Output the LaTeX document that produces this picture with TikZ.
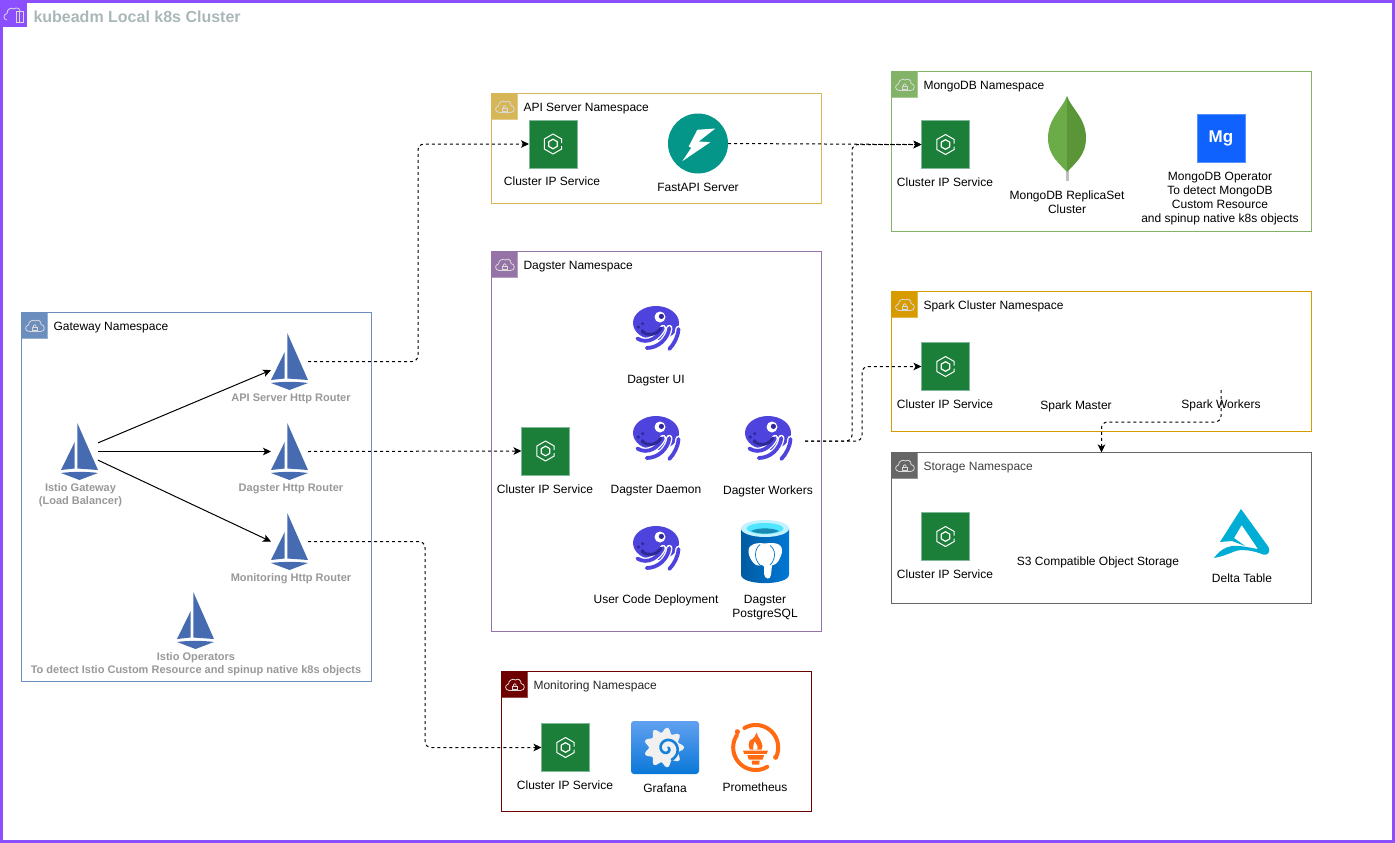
\documentclass[tikz,border=0pt]{standalone}
\usepackage{fontspec}
\setmainfont{Liberation Sans}
\usetikzlibrary{arrows.meta}
\definecolor{outerpurple}{HTML}{8C4FFF}
\definecolor{clustertitle}{HTML}{AAB7B8}
\definecolor{gatewayblue}{HTML}{6C8EBF}
\definecolor{apigold}{HTML}{D6B656}
\definecolor{dagstermauve}{HTML}{9673A6}
\definecolor{mongogreen}{HTML}{82B366}
\definecolor{sparkamber}{HTML}{D79B00}
\definecolor{storagegrey}{HTML}{666666}
\definecolor{monitormaroon}{HTML}{6F0000}
\definecolor{sailblue}{HTML}{466BB0}
\definecolor{svcgreen}{HTML}{1B7F3A}
\definecolor{svcedge}{HTML}{82B89A}
\definecolor{routergrey}{HTML}{999999}
\definecolor{fastteal}{HTML}{049688}
\definecolor{dagpurple}{HTML}{4F43DD}
\definecolor{dagdark}{HTML}{2D2A96}
\definecolor{leaflight}{HTML}{6CAC48}
\definecolor{leafdark}{HTML}{5A9638}
\definecolor{mgblue}{HTML}{0F62FE}
\definecolor{promorange}{HTML}{FF6A13}
\definecolor{deltacyan}{HTML}{00ADD4}
\definecolor{pgleft}{HTML}{005BA1}
\definecolor{pgright}{HTML}{0078D4}
\definecolor{pgring}{HTML}{C3F1FF}
\definecolor{pgcyan}{HTML}{50E6FF}
\definecolor{pgdeep}{HTML}{198AB3}
\definecolor{giftop}{HTML}{61A0F0}
\definecolor{gifbottom}{HTML}{0A78D8}
\tikzset{
  nsbox/.style={draw=#1, fill=white, anchor=north west, inner sep=0pt, outer sep=0pt},
  nstitle/.style={anchor=west, inner sep=0pt},
  txt/.style={inner sep=0pt, align=center},
  grouter/.style={inner sep=0pt, align=center, text=routergrey, font=\fontsize{11}{13}\selectfont\bfseries},
  sailbox/.style={minimum width=37pt, minimum height=57pt, inner sep=0pt, outer sep=0pt},
  svcbox/.style={fill=svcgreen, draw=svcedge, minimum size=48pt, inner sep=0pt, outer sep=0pt},
  solidflow/.style={draw=black, -{Stealth[length=8pt,width=7.5pt,inset=2pt]}},
  dashflow/.style={draw=black, dash pattern=on 3pt off 3pt, rounded corners=6pt, -{Stealth[length=8pt,width=7.5pt,inset=2pt]}},
  tentacle/.style={white, double=dagpurple, double distance=3.8pt, line width=1.3pt, line cap=round},
  sail/.pic={
    \fill[sailblue] (-18.5,18.5) -- (-4.8,-9.5) -- (-4.8,17) -- cycle;
    \fill[sailblue] (-2.2,-28.5) -- (-2.2,17) -- (18.5,18.5) -- cycle;
    \fill[sailblue] (-18.5,21.5) .. controls (-8,20) and (8,20) .. (18.5,21.5) -- (0,28.5) -- cycle;
  },
  hexmark/.pic={
    \draw[white, line join=round] (8.7,-1) -- (8.7,-5) -- (0,-10) -- (-8.7,-5) -- (-8.7,5) -- (0,10) -- (8.7,5) -- (8.7,2);
    \draw[white, line width=1.2pt, line join=round] (0,-4.8) -- (4.2,-2.4) -- (4.2,2.4) -- (0,4.8) -- (-4.2,2.4) -- (-4.2,-2.4) -- cycle;
  },
  cloudlock/.pic={
    \draw[white!85!black, line width=.8pt] (8,19) .. controls (3,19) and (3,13) .. (7,12.5) .. controls (7,9) and (11,6.5) .. (14,8.5) .. controls (16,6.5) and (20,8.5) .. (19.5,12) .. controls (24,12.5) and (24,19) .. (19,19) -- cycle;
    \draw[white!85!black, line width=.8pt] (11,14.5) rectangle (15.5,18);
    \draw[white!85!black, line width=.8pt] (11.8,14.5) .. controls (11.8,11.5) and (14.7,11.5) .. (14.7,14.5);
  },
  nsicon/.pic={
    \fill[#1] (0,0) rectangle (26,26);
    \draw[#1!70!white] (0,26) -- (26,26) -- (26,0);
    \pic at (0,0) {cloudlock};
  },
  octopus/.pic={
    \fill[dagpurple] (0,-6) ellipse [x radius=23, y radius=17];
    \draw[tentacle] (22.5,0) .. controls (22,8) and (18,15) .. (13.3,20);
    \draw[tentacle] (13.3,-1) .. controls (12,10) and (2,19) .. (-9.3,19);
    \draw[tentacle] (7,-1) .. controls (3,8) and (-8,16) .. (-18.7,9.5);
    \draw[dagdark, line width=3pt, line cap=round] (-14,2.5) .. controls (-9,7) and (0,7) .. (5,-1);
    \fill[white] (4,-12) circle (5.5);
    \fill[dagdark] (5.4,-12.6) circle (2.6);
    \fill[dagdark] (-13.3,-5.3) circle (1.7) (-17.7,-2) circle (1.7) (-13.3,1.7) circle (1.7);
  },
  leaf/.pic={
    \fill[black!25] (-1.5,70) rectangle (1.5,85);
    \fill[leaflight] (0,0) .. controls (-4,12) and (-19,22) .. (-19,42) .. controls (-19,60) and (-7,68) .. (0,76) -- cycle;
    \fill[leafdark] (0,0) .. controls (4,12) and (19,22) .. (19,42) .. controls (19,60) and (7,68) .. (0,76) -- cycle;
  },
  bolt/.pic={
    \fill[white] (-0.7,-13.7) -- (17.3,-15) -- (0.7,-2) -- (12.3,-1.3) -- (-15.7,17.7) -- (-6.7,4.3) -- (-9.3,3) -- cycle;
  },
  pgbarrel/.pic={
    \shade[left color=pgleft, right color=pgright] (-24,-23) -- (-24,23) .. controls (-24,34.5) and (24,34.5) .. (24,23) -- (24,-23) -- cycle;
    \fill[pgring] (0,-23) ellipse [x radius=24, y radius=8.5];
    \fill[pgcyan] (0,-23) ellipse [x radius=18.5, y radius=5.5];
    \fill[pgdeep] (-14,-20.5) .. controls (-7,-24) and (7,-24) .. (14,-20.5) .. controls (7,-17) and (-7,-17) .. (-14,-20.5) -- cycle;
    \fill[white] (0,-8) .. controls (-8,-9) and (-16,-8) .. (-16.5,-1) .. controls (-17,5) and (-11,15) .. (-6,14) .. controls (-4,13) and (-2,13) .. (-1,15) -- (-1,22) .. controls (-1,28) and (6,29) .. (6,23) -- (7,14) .. controls (12,14) and (17,5) .. (17,-1) .. controls (17,-9) and (8,-9) .. (0,-8) -- cycle;
    \draw[pgright, line width=.7pt] (-5,-7) .. controls (-11,-2) and (-11,8) .. (-5,13.5);
    \draw[pgright, line width=.7pt] (5,-6) .. controls (11,-2) and (11,8) .. (5,13.5);
  },
  swirl/.pic={
    \shade[top color=giftop, bottom color=gifbottom, rounded corners=3pt] (-34,-26.5) rectangle (34,26.5);
    \fill[black!6!white] plot[domain=0:360, samples=109] ({-1+(17.5+2.5*cos(9*\x))*cos(\x)},{(17.5+2.5*cos(9*\x))*sin(\x)}) -- cycle;
    \draw[pgright!80!giftop, line width=2.6pt] plot[domain=-50:430, samples=50] ({2+(2+\x/42)*cos(\x)},{1+(2+\x/42)*sin(\x)});
  },
  torch/.pic={
    \draw[promorange, line width=4pt, line cap=round] plot[domain=-120:20, samples=30] ({22.5*cos(\x)},{22.5*sin(\x)});
    \draw[promorange, line width=4pt, line cap=round] plot[domain=59:213, samples=30] ({22.5*cos(\x)},{22.5*sin(\x)});
    \fill[promorange] (-18.3,-15.7) circle (2.6) (20,9.7) circle (2.6);
    \fill[promorange] (1,-15) .. controls (1,-10) and (9,-6) .. (6,2) -- (-6,2) .. controls (-9,-4) and (-5,-9) .. (-4,-8) .. controls (-2,-9) and (0,-12) .. (1,-15) -- cycle;
    \fill[white] (-1,-6) .. controls (0,-3) and (3,-2) .. (1.5,2) -- (-2.5,2) .. controls (-3,-1) and (-2,-3) .. (-1,-6) -- cycle;
    \fill[promorange] (-12.7,3) -- (12.3,3) -- (11,6.3) -- (-11.5,6.3) -- cycle;
    \fill[promorange] (-8.3,7.7) -- (8.3,7.7) -- (7,12) -- (-7,12) -- cycle;
    \fill[promorange] (-4,13) -- (4,13) -- (3.5,17) -- (-3.5,17) -- cycle;
  },
  deltamark/.pic={
    \fill[deltacyan] (0,0) -- (27.5,38) .. controls (30,44) and (26,46.5) .. (22,45.5) .. controls (14,42) and (0,39) .. (-8,43) .. controls (-15,46) and (-21,48) .. (-27,49) .. controls (-22,42) and (-16,38) .. (-9,37) .. controls (-3,36) and (8,38.5) .. (17,40) -- (0.7,16) -- (-7,29) -- (4,37) -- (-9,32) -- (-21,33) -- cycle;
  }
}
\begin{document}
\begin{tikzpicture}[x=1pt, y=-1pt, line width=1pt, font=\fontsize{12}{14}\selectfont]
  \useasboundingbox (0,0) rectangle (1395,843);
  % cluster frame
  \draw[outerpurple, line width=3pt] (1.5,1.5) rectangle (1393.5,841.5);
  \fill[outerpurple] (0,0) rectangle (27,27);
  \draw[white!85!black, line width=.8pt] (7,20) .. controls (3,20) and (3,14) .. (7,13.5) .. controls (7,9) and (11,7) .. (14,9) .. controls (16,7) and (21,8) .. (20,12);
  \draw[white!85!black, line width=.8pt] (16,11) rectangle (23,22);
  \draw[white!85!black, line width=.6pt] (19.5,11) -- (19.5,22);
  \node[nstitle, text=clustertitle, font=\fontsize{16}{18}\selectfont\bfseries] (clustertitle) at (33,16.5) {kubeadm Local k8s Cluster};

  % namespaces
  \node[nsbox=gatewayblue, minimum width=350pt, minimum height=369pt] (nsgateway) at (21.5,312.5) {};
  \node[nsbox=apigold, minimum width=330pt, minimum height=110pt] (nsapi) at (491.5,93.5) {};
  \node[nsbox=dagstermauve, minimum width=330pt, minimum height=380pt] (nsdagster) at (491.5,251.5) {};
  \node[nsbox=mongogreen, minimum width=420pt, minimum height=160pt] (nsmongo) at (891.5,71.5) {};
  \node[nsbox=sparkamber, minimum width=420pt, minimum height=140pt] (nsspark) at (891.5,291.5) {};
  \node[nsbox=storagegrey, minimum width=420pt, minimum height=151pt] (nsstorage) at (891.5,452.5) {};
  \node[nsbox=monitormaroon, minimum width=310pt, minimum height=140pt] (nsmonitor) at (501.5,671.5) {};
  \pic at (nsgateway.north west) {nsicon=gatewayblue};
  \pic at (nsapi.north west) {nsicon=apigold};
  \pic at (nsdagster.north west) {nsicon=dagstermauve};
  \pic at (nsmongo.north west) {nsicon=mongogreen};
  \pic at (nsspark.north west) {nsicon=sparkamber};
  \pic at (nsstorage.north west) {nsicon=storagegrey};
  \pic at (nsmonitor.north west) {nsicon=monitormaroon};
  \node[nstitle] (tgateway) at (53,328) {Gateway Namespace};
  \node[nstitle] (tapi) at (523,109) {API Server Namespace};
  \node[nstitle] (tdagster) at (523,267) {Dagster Namespace};
  \node[nstitle] (tmongo) at (923,87) {MongoDB Namespace};
  \node[nstitle] (tspark) at (923,306) {Spark Cluster Namespace};
  \node[nstitle, text=black!75] (tstorage) at (923,468) {Storage Namespace};
  \node[nstitle, text=black!85] (tmonitor) at (533,686.5) {Monitoring Namespace};

  % gateway namespace
  \node[sailbox] (gw) at (79.5,451.5) {};
  \node[sailbox] (rapi) at (289.5,361.5) {};
  \node[sailbox] (rdag) at (289.5,451.5) {};
  \node[sailbox] (rmon) at (289.5,541.5) {};
  \node[sailbox] (iop) at (195.5,620.5) {};
  \pic at (gw) {sail};
  \pic at (rapi) {sail};
  \pic at (rdag) {sail};
  \pic at (rmon) {sail};
  \pic at (iop) {sail};
  \node[grouter] (lgw) at (80.5,495) {Istio Gateway\\(Load Balancer)};
  \node[grouter] (lrapi) at (291,399) {API Server Http Router};
  \node[grouter] (lrdag) at (291,489) {Dagster Http Router};
  \node[grouter] (lrmon) at (291,579) {Monitoring Http Router};
  \node[grouter] (liop) at (196,664) {Istio Operators\\To detect Istio Custom Resource and spinup native k8s objects};

  % cluster ip services
  \node[svcbox] (svcapi) at (553,144) {};
  \node[svcbox] (svcdag) at (545.5,451) {};
  \node[svcbox] (svcmongo) at (945.5,144.5) {};
  \node[svcbox] (svcspark) at (945.5,366.5) {};
  \node[svcbox] (svcstore) at (945.5,536.5) {};
  \node[svcbox] (svcmon) at (565.5,747.5) {};
  \pic at (svcapi) {hexmark};
  \pic at (svcdag) {hexmark};
  \pic at (svcmongo) {hexmark};
  \pic at (svcspark) {hexmark};
  \pic at (svcstore) {hexmark};
  \pic at (svcmon) {hexmark};
  \node[txt] (lsvcapi) at (552,181) {Cluster IP Service};
  \node[txt] (lsvcdag) at (545,489) {Cluster IP Service};
  \node[txt] (lsvcmongo) at (945,182) {Cluster IP Service};
  \node[txt] (lsvcspark) at (945,404) {Cluster IP Service};
  \node[txt] (lsvcstore) at (945,574) {Cluster IP Service};
  \node[txt] (lsvcmon) at (565,785) {Cluster IP Service};

  % api server
  \node[fill=fastteal, circle, minimum size=60pt, inner sep=0pt, outer sep=0pt] (fast) at (698,143.5) {};
  \pic at (fast) {bolt};
  \node[txt] (lfast) at (698,187) {FastAPI Server};

  % dagster
  \pic at (656,329) {octopus};
  \pic at (656,439) {octopus};
  \pic at (656,549) {octopus};
  \pic at (768,439) {octopus};
  \pic at (765,551.5) {pgbarrel};
  \node[txt] (ldagui) at (656,381) {Dagster UI};
  \node[txt] (ldagdaemon) at (656,491) {Dagster Daemon};
  \node[txt] (ldagwork) at (768,491) {Dagster Workers};
  \node[txt] (ldagcode) at (656,600) {User Code Deployment};
  \node[txt] (ldagpg) at (765,608) {Dagster\\PostgreSQL};
  \coordinate (workout) at (805,441);

  % mongodb
  \pic at (1067,96) {leaf};
  \node[fill=mgblue, draw=mgblue!70!white, minimum size=48pt, inner sep=0pt, text=white, font=\fontsize{17}{20}\selectfont\bfseries] (mgop) at (1221,138) {\raisebox{-1pt}{Mg}};
  \node[txt] (lleaf) at (1067,202) {MongoDB ReplicaSet\\Cluster};
  \node[txt] (lmgop) at (1220,199) {MongoDB Operator\\To detect MongoDB\\Custom Resource\\and spinup native k8s objects};

  % spark and storage
  \node[txt] (lsmaster) at (1076,406) {Spark Master};
  \node[txt] (lsworkers) at (1221,405) {Spark Workers};
  \coordinate (swtop) at (1221,390);
  \node[txt] (ls3) at (1098,562) {S3 Compatible Object Storage};
  \pic at (1241,509) {deltamark};
  \node[txt] (ldelta) at (1242,578) {Delta Table};

  % monitoring
  \pic at (665,747.5) {swirl};
  \pic at (755.7,747.5) {torch};
  \node[txt] (lgraf) at (665,788) {Grafana};
  \node[txt] (lprom) at (755,787) {Prometheus};

  % connectors
  \draw[solidflow] (gw.25) -- (rapi.205);
  \draw[solidflow] (gw.east) -- (rdag.west);
  \draw[solidflow] (gw.-25) -- (rmon.west);
  \draw[dashflow] (rapi.east) -- ++(110,0) |- (svcapi.west);
  \draw[dashflow] (rdag.east) -- (svcdag.west);
  \draw[dashflow] (rmon.east) -- ++(117,0) |- (svcmon.west);
  \draw[dashflow] (fast.east) -- (svcmongo.west);
  \draw[dashflow] (workout) -- ++(47,0) |- (svcmongo.west);
  \draw[dashflow] (workout) -- ++(57,0) |- (svcspark.west);
  \draw[dashflow] (swtop) -- ++(0,32) -| (nsstorage.north);
\end{tikzpicture}
\end{document}
